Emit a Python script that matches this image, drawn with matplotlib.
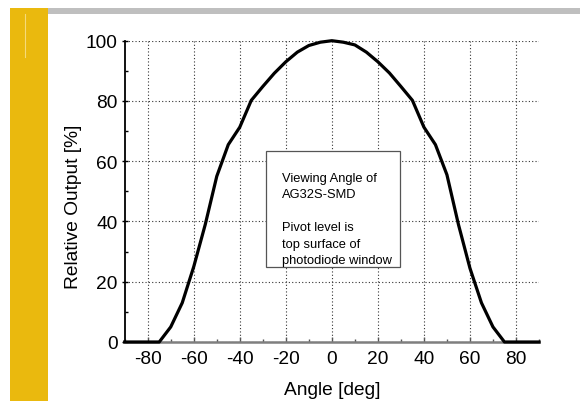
import matplotlib
matplotlib.use("Agg")
import matplotlib.pyplot as plt
from matplotlib.patches import Rectangle
from matplotlib.ticker import MultipleLocator

plt.rcParams['font.family'] = ['Liberation Sans', 'DejaVu Sans']

angles = [-90, -85, -80, -75, -70, -65, -60, -55, -50, -45, -40, -35, -30, -25, -20, -15, -10, -5,
          0, 5, 10, 15, 20, 25, 30, 35, 40, 45, 50, 55, 60, 65, 70, 75, 80, 85, 90]
output = [0, 0, 0, 0, 5, 13, 25, 39, 55, 65.5, 71.3, 80.2, 84.8, 89.2, 93, 96.2, 98.4, 99.5,
          100, 99.5, 98.6, 96.2, 93, 89.3, 84.8, 80.2, 71.3, 65.5, 55.5, 39, 24.5, 13, 5, 0, 0, 0, 0]
x_ticks = [-80, -60, -40, -20, 0, 20, 40, 60, 80]
y_ticks = [0, 20, 40, 60, 80, 100]
annotation = "Viewing Angle of\nAG32S-SMD\n\nPivot level is\ntop surface of\nphotodiode window"

W, H = 580, 402
fig = plt.figure(figsize=(W / 100, H / 100), dpi=100)
fig.patch.set_facecolor('white')

# decorations
fig.patches.append(Rectangle((10 / W, 0), 38 / W, (H - 9) / H, transform=fig.transFigure,
                             facecolor='#EAB90E', edgecolor='none', zorder=0))
fig.patches.append(Rectangle((48 / W, (H - 15) / H), (W - 48) / W, 6 / H, transform=fig.transFigure,
                             facecolor='#BFBFBF', edgecolor='none', zorder=0))
fig.lines.append(plt.Line2D([24.5 / W, 24.5 / W], [(H - 58) / H, (H - 15) / H], transform=fig.transFigure,
                            color='#F5DA7A', lw=0.8, zorder=1))

ax = fig.add_axes([124.7 / W, (H - 343) / H, (539 - 124.7) / W, (343 - 41.7) / H])
ax.plot(angles, output, color='black', lw=2.3, zorder=3, clip_on=False)
ax.set_xlim(-90, 90)
ax.set_ylim(0, 100)
ax.set_xticks(x_ticks)
ax.set_yticks(y_ticks)
ax.xaxis.set_minor_locator(MultipleLocator(10))
ax.yaxis.set_minor_locator(MultipleLocator(10))
ax.set_xticklabels([str(t) for t in x_ticks])

for s in ['top', 'right']:
    ax.spines[s].set_visible(False)
ax.spines['left'].set_color('black')
ax.spines['left'].set_linewidth(1.3)
ax.spines['bottom'].set_color('#7F7F7F')
ax.spines['bottom'].set_linewidth(1.8)

ax.tick_params(axis='x', which='major', direction='in', length=3.5, width=1, color='#555555',
               labelsize=13.8, pad=6)
ax.tick_params(axis='x', which='minor', direction='in', length=2.2, width=1, color='#555555')
ax.tick_params(axis='y', which='major', direction='inout', length=4, width=1, color='black',
               labelsize=13.8, pad=3)
ax.tick_params(axis='y', which='minor', direction='in', length=2.5, width=1, color='black')

ax.grid(True, which='major', linestyle=(0, (1, 2)), color='#333333', linewidth=0.8)
ax.set_axisbelow(True)

ax.set_xlabel('Angle [deg]', fontsize=13.8, labelpad=9.5)
ax.set_ylabel('Relative Output [%]', fontsize=13.8)
ax.yaxis.set_label_coords((82 - 124.7) / (539 - 124.7), 0.452)

# annotation box
ax.add_patch(Rectangle((-28.5, 24.8), 58.3, 38.7, facecolor='white', edgecolor='#555555',
                       lw=0.9, zorder=4))
ax.text(-21.5, 56.4, annotation, fontsize=9.3, va='top', ha='left', linespacing=1.49, zorder=5)

fig.savefig('out.png', dpi=100, facecolor='white')
